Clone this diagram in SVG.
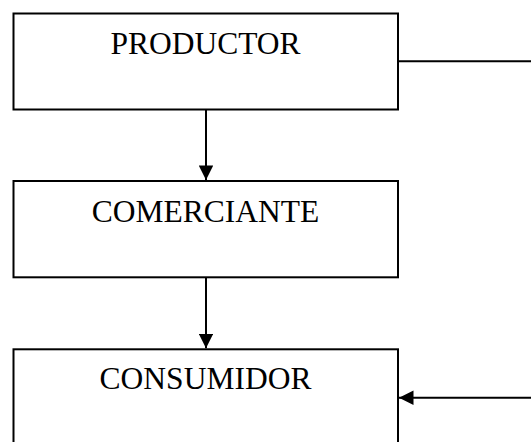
<svg xmlns="http://www.w3.org/2000/svg" width="531" height="442" viewBox="0 0 531 442">
<style>
.box{fill:#fff;stroke:#000;stroke-width:2}
.lbl{font-family:"Liberation Serif",serif;font-size:31.5px;fill:#000;text-anchor:middle}
.conn{stroke:#000;stroke-width:2;fill:none}
</style>
<defs>
<marker id="ah" viewBox="0 0 10 10" refX="10" refY="5" markerWidth="15" markerHeight="14.5" markerUnits="userSpaceOnUse" orient="auto">
<path d="M0,0 L10,5 L0,10 Z" fill="#000"/>
</marker>
</defs>
<rect width="531" height="442" fill="#fff"/>
<g id="productor">
<rect class="box" x="13.5" y="13.5" width="384.5" height="96"/>
<text class="lbl" x="205.5" y="54">PRODUCTOR</text>
</g>
<g id="comerciante">
<rect class="box" x="13.5" y="181" width="384.5" height="96.3"/>
<text class="lbl" x="205.5" y="221.7">COMERCIANTE</text>
</g>
<g id="consumidor">
<rect class="box" x="13.5" y="349.3" width="384.5" height="110"/>
<text class="lbl" x="205.5" y="389.3">CONSUMIDOR</text>
</g>
<g id="connectors">
<line class="conn" x1="206" y1="109.5" x2="206" y2="180" marker-end="url(#ah)"/>
<line class="conn" x1="206" y1="277.3" x2="206" y2="348.3" marker-end="url(#ah)"/>
<line class="conn" x1="398" y1="61.3" x2="531" y2="61.3"/>
<line class="conn" x1="531" y1="397.7" x2="399" y2="397.7" marker-end="url(#ah)"/>
</g>
</svg>
